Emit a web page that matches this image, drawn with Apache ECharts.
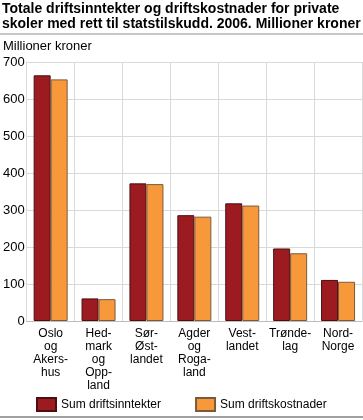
<!DOCTYPE html>
<html>
<head>
<meta charset="utf-8">
<script src="https://cdn.jsdelivr.net/npm/echarts@6/dist/echarts.min.js"></script>
<style>html,body{margin:0;padding:0;background:#fff}#c{width:363px;height:420px}</style>
</head>
<body>
<div id="c"></div>
<script>
var categories = ['Oslo\nog\nAkers-\nhus', 'Hed-\nmark\nog\nOpp-\nland', 'Sør-\nØst-\nlandet', 'Agder\nog\nRoga-\nland', 'Vest-\nlandet', 'Trønde-\nlag', 'Nord-\nNorge'];
var inntekter = [664, 61, 372, 286, 318, 196, 111];
var kostnader = [653, 59, 370, 282, 312, 183, 106];
var yTicks = [0, 100, 200, 300, 400, 500, 600, 700];
var seriesNames = ['Sum driftsinntekter', 'Sum driftskostnader'];
var titleText = 'Totale driftsinntekter og driftskostnader for private\nskoler med rett til statstilskudd. 2006. Millioner kroner';
var unitText = 'Millioner kroner';

var FONT = 'Liberation Sans, Arial, sans-serif';
var chart = echarts.init(document.getElementById('c'));
chart.setOption({
  animation: false,
  textStyle: {fontFamily: FONT},
  title: {
    text: titleText, left: 2, top: 2, padding: 0,
    textStyle: {fontSize: 14, fontWeight: 'bold', lineHeight: 15, color: '#000', fontFamily: FONT}
  },
  graphic: [
    {type: 'line', shape: {x1: 0, y1: 34, x2: 363, y2: 34}, style: {stroke: '#c8c8c8', lineWidth: 2}},
    {type: 'line', shape: {x1: 0, y1: 417, x2: 363, y2: 417}, style: {stroke: '#a0a0a0', lineWidth: 2}},
    {type: 'text', left: 3, top: 40, style: {text: unitText, font: '13px ' + FONT, fill: '#000'}}
  ],
  legend: {
    left: 36, top: 397, itemWidth: 19, itemHeight: 13, itemGap: 34, padding: 0,
    icon: 'rect',
    textStyle: {fontSize: 12, color: '#000', fontFamily: FONT},
    data: seriesNames
  },
  grid: {left: 26, right: 1, top: 62, bottom: 99},
  xAxis: {
    type: 'category', data: categories,
    axisLine: {show: true, lineStyle: {color: '#bdbdbd'}},
    axisTick: {show: false},
    splitLine: {show: true, lineStyle: {color: '#d9d9d9'}},
    axisLabel: {fontSize: 12, lineHeight: 13, color: '#000', margin: 6, interval: 0, fontFamily: FONT}
  },
  yAxis: {
    type: 'value', min: yTicks[0], max: yTicks[yTicks.length - 1], interval: 100,
    axisLine: {show: true, lineStyle: {color: '#d9d9d9'}},
    axisTick: {show: false},
    splitLine: {show: true, lineStyle: {color: '#d9d9d9'}},
    axisLabel: {fontSize: 13, color: '#000', margin: 2, fontFamily: FONT}
  },
  series: [
    {name: seriesNames[0], type: 'bar', data: inntekter, barWidth: 17, barGap: '0%',
     itemStyle: {color: '#9c1b20', borderColor: '#4d0e10', borderWidth: 1}},
    {name: seriesNames[1], type: 'bar', data: kostnader, barWidth: 17, barGap: '0%',
     itemStyle: {color: '#f7993a', borderColor: '#7a5a3c', borderWidth: 1}}
  ]
});
</script>
</body>
</html>
